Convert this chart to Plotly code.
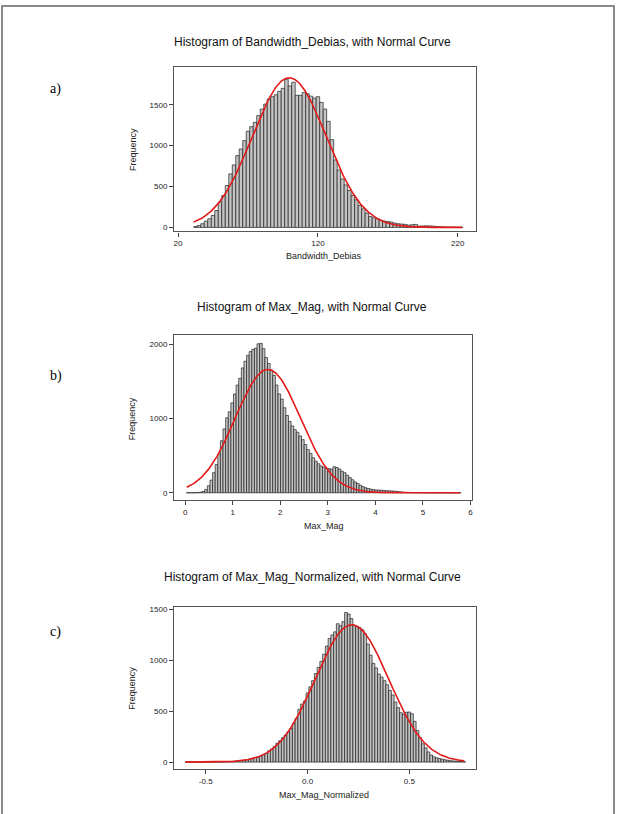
import numpy as np
import plotly.graph_objects as go

W, H = 619, 814

# ---------------- Panel a: Bandwidth_Debias ----------------
a_bin_start = 32.5
a_bin_width = 2.5
a_counts = [12, 24, 45, 77, 106, 146, 207, 309, 390, 512, 654, 764, 878, 959, 1061,
            1175, 1232, 1285, 1366, 1447, 1508, 1569, 1598, 1622, 1663, 1700, 1813,
            1730, 1775, 1615, 1615, 1650, 1635, 1605, 1580, 1598, 1528, 1447, 1297,
            1073, 825, 703, 593, 520, 451, 390, 337, 268, 228, 175, 134, 118, 106, 85,
            77, 73, 65, 53, 45, 41, 37, 28, 33, 37, 16, 18, 20, 18, 16, 10, 8, 6, 5, 4,
            3, 2, 1]
a_mean, a_sd, a_n = 99.5, 26.5, 48600
a_curve_lo, a_curve_hi = 31.0, 223.0
a_xticks = [20, 120, 220]
a_yticks = [0, 500, 1000, 1500]

# ---------------- Panel b: Max_Mag ----------------
b_bin_start = 0.055
b_bin_width = 0.055
b_counts = [0, 0, 1, 1, 3, 8, 18, 45, 95, 170, 270, 380, 520, 700, 860, 1010, 1090,
            1210, 1330, 1450, 1540, 1680, 1770, 1850, 1900, 1930, 1945, 2005, 2010,
            1940, 1820, 1740, 1650, 1580, 1450, 1330, 1260, 1145, 1040, 960, 900, 850,
            815, 765, 715, 650, 580, 530, 470, 425, 390, 360, 345, 330, 325, 318, 350,
            340, 320, 290, 270, 235, 205, 175, 145, 125, 100, 82, 68, 57, 49, 42, 38,
            36, 35, 31, 28, 27, 24, 22, 18, 14, 10, 7, 5, 4, 4, 3, 3, 2, 2, 2, 1, 1, 1,
            1, 1, 1, 1, 1, 0, 1, 0, 1, 0]
b_mean, b_sd, b_n = 1.74, 0.685, 51800
b_curve_lo, b_curve_hi = 0.035, 5.77
b_xticks = [0, 1, 2, 3, 4, 5, 6]
b_yticks = [0, 1000, 2000]

# ---------------- Panel c: Max_Mag_Normalized ----------------
c_bin_start = -0.594
c_bin_width = 0.0135
c_counts = [1, 1, 1, 1, 1, 1, 1, 2, 2, 2, 2, 3, 3, 3, 4, 5, 6, 7, 9, 12, 15, 18, 22,
            30, 38, 45, 52, 60, 72, 85, 110, 128, 155, 185, 210, 240, 265, 295, 330,
            380, 430, 520, 570, 600, 680, 740, 800, 870, 930, 990, 1060, 1140, 1215,
            1250, 1280, 1360, 1340, 1380, 1470, 1455, 1410, 1345, 1330, 1320, 1300,
            1260, 1160, 1050, 970, 925, 865, 835, 800, 760, 705, 660, 590, 535, 485,
            470, 490, 492, 475, 400, 310, 240, 180, 140, 100, 70, 52, 42, 35, 29, 23,
            18, 14, 11, 9, 7, 5, 3]
c_mean, c_sd, c_n = 0.218, 0.18, 45100
c_curve_lo, c_curve_hi = -0.60, 0.77
c_xticks = [-0.5, 0.0, 0.5]
c_xticklabels = ["-0.5", "0.0", "0.5"]
c_yticks = [0, 500, 1000, 1500]

titles = ["Histogram of Bandwidth_Debias, with Normal Curve",
          "Histogram of Max_Mag, with Normal Curve",
          "Histogram of Max_Mag_Normalized, with Normal Curve"]
xtitles = ["Bandwidth_Debias", "Max_Mag", "Max_Mag_Normalized"]
panel_labels = ["a)", "b)", "c)"]


def px(x):
    return x / W


def py(y):
    return 1 - y / H


def normal_curve(lo, hi, mean, sd, n, bw):
    xs = np.linspace(lo, hi, 400)
    ys = n * bw * np.exp(-0.5 * ((xs - mean) / sd) ** 2) / (sd * np.sqrt(2 * np.pi))
    return xs, ys


fig = go.Figure()

panels = [
    (a_bin_start, a_bin_width, a_counts, a_mean, a_sd, a_n, a_curve_lo, a_curve_hi),
    (b_bin_start, b_bin_width, b_counts, b_mean, b_sd, b_n, b_curve_lo, b_curve_hi),
    (c_bin_start, c_bin_width, c_counts, c_mean, c_sd, c_n, c_curve_lo, c_curve_hi),
]
suffix = ["", "2", "3"]
for i, (bs, bw, counts, mu, sd, n, lo, hi) in enumerate(panels):
    centers = [bs + k * bw for k in range(len(counts))]
    fig.add_trace(go.Bar(x=centers, y=counts, width=bw,
                         marker=dict(color="#c4c4c4", line=dict(color="#202020", width=0.7)),
                         xaxis="x" + suffix[i], yaxis="y" + suffix[i], showlegend=False,
                         hoverinfo="skip"))
    cx, cy = normal_curve(lo, hi, mu, sd, n, bw)
    fig.add_trace(go.Scatter(x=cx, y=cy, mode="lines",
                             line=dict(color="#e41a1a", width=1.6),
                             xaxis="x" + suffix[i], yaxis="y" + suffix[i],
                             showlegend=False, hoverinfo="skip"))

tickfont = dict(family="Liberation Sans, Arial", size=8, color="#222")
axis_common = dict(showline=True, mirror=True, linecolor="#555", linewidth=1.3,
                   ticks="outside", ticklen=4, tickwidth=1, tickcolor="#444",
                   showgrid=False, zeroline=False, tickfont=tickfont, fixedrange=True)

# pixel boxes (left, right, top, bottom)
boxes = [(174, 477, 66, 231), (174, 473, 335, 500), (174, 477, 607, 770)]
xranges = [[17.2, 232.8], [-0.23, 6.025], [-0.655, 0.826]]
yranges = [[-49, 1963], [-94, 2121], [-69, 1529]]
xtickvals = [a_xticks, b_xticks, c_xticks]
xticktext = [[str(v) for v in a_xticks], [str(v) for v in b_xticks], c_xticklabels]
ytickvals = [a_yticks, b_yticks, c_yticks]

layout = dict(width=W, height=H, margin=dict(l=0, r=0, t=0, b=0),
              paper_bgcolor="white", plot_bgcolor="white", barmode="overlay",
              showlegend=False)
for i in range(3):
    l, r, t, b = boxes[i]
    layout["xaxis" + suffix[i]] = dict(domain=[px(l), px(r)], range=xranges[i],
                                       tickvals=xtickvals[i], ticktext=xticktext[i],
                                       anchor="y" + suffix[i], **axis_common)
    layout["yaxis" + suffix[i]] = dict(domain=[py(b), py(t)], range=yranges[i],
                                       tickvals=ytickvals[i],
                                       ticktext=[str(v) for v in ytickvals[i]],
                                       anchor="x" + suffix[i], **axis_common)
fig.update_layout(**layout)

ann = []
title_y = [41, 307, 577]
xtitle_y = [256, 526, 796]
ytitle_y = [149, 419, 689]
label_y = [88, 376, 633]
for i in range(3):
    ann.append(dict(text=titles[i], x=px(313), y=py(title_y[i]), xref="paper", yref="paper",
                    showarrow=False, xanchor="center", yanchor="middle",
                    font=dict(family="Liberation Sans, Arial", size=12, color="#111")))
    ann.append(dict(text=xtitles[i], x=px(325), y=py(xtitle_y[i]), xref="paper", yref="paper",
                    showarrow=False, xanchor="center", yanchor="middle",
                    font=dict(family="Liberation Sans, Arial", size=9, color="#222")))
    ann.append(dict(text="Frequency", x=px(132), y=py(ytitle_y[i]), xref="paper", yref="paper",
                    showarrow=False, xanchor="center", yanchor="middle", textangle=-90,
                    font=dict(family="Liberation Sans, Arial", size=9, color="#222")))
    ann.append(dict(text=panel_labels[i], x=px(55), y=py(label_y[i]), xref="paper", yref="paper",
                    showarrow=False, xanchor="center", yanchor="middle",
                    font=dict(family="Liberation Serif, Times New Roman", size=14, color="#000")))
fig.update_layout(annotations=ann)

fig.update_layout(shapes=[dict(type="rect", xref="paper", yref="paper",
                               x0=px(1), x1=px(616), y0=-0.02, y1=py(5),
                               line=dict(color="#666", width=1.5), fillcolor="rgba(0,0,0,0)")])

fig.write_html("out.html")
